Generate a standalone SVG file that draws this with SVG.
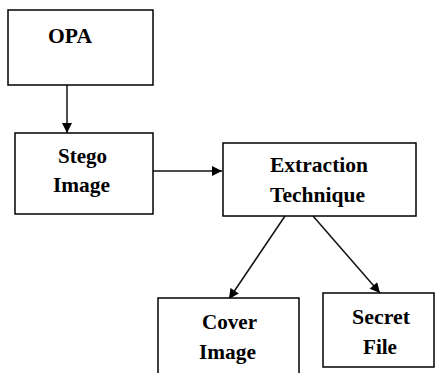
<svg xmlns="http://www.w3.org/2000/svg" width="435" height="373" viewBox="0 0 435 373">
<style>
.box{fill:#fff;stroke:#000;stroke-width:1.5}
.t{font-family:"Liberation Serif","Times New Roman",serif;font-weight:bold;font-size:21px;fill:#000}
.c{stroke:#111;stroke-width:1.5;fill:none;marker-end:url(#ah)}
</style>
<defs>
<marker id="ah" viewBox="0 0 10 10" refX="10" refY="5" markerWidth="11" markerHeight="10" markerUnits="userSpaceOnUse" orient="auto">
<path d="M0,0 L10,5 L0,10 z" fill="#000"/>
</marker>
</defs>
<rect width="435" height="373" fill="#fff"/>
<g id="connectors">
<line class="c" x1="67" y1="85" x2="67" y2="133"/>
<line class="c" x1="153" y1="171" x2="222" y2="171"/>
<line class="c" x1="285" y1="216" x2="229" y2="299"/>
<line class="c" x1="313" y1="216" x2="380" y2="293"/>
</g>
<g id="opa">
<rect class="box" x="8" y="10" width="145" height="75"/>
<text class="t" x="48" y="43" textLength="44" lengthAdjust="spacingAndGlyphs">OPA</text>
</g>
<g id="stego">
<rect class="box" x="15" y="133" width="138" height="81"/>
<text class="t" x="58" y="163" textLength="49" lengthAdjust="spacingAndGlyphs">Stego</text>
<text class="t" x="53" y="192" textLength="57" lengthAdjust="spacingAndGlyphs">Image</text>
</g>
<g id="extraction">
<rect class="box" x="223" y="143" width="193" height="73"/>
<text class="t" x="270" y="172" textLength="98" lengthAdjust="spacingAndGlyphs">Extraction</text>
<text class="t" x="270" y="202" textLength="95" lengthAdjust="spacingAndGlyphs">Technique</text>
</g>
<g id="cover">
<rect class="box" x="158" y="298" width="141" height="80"/>
<text class="t" x="202" y="329" textLength="55" lengthAdjust="spacingAndGlyphs">Cover</text>
<text class="t" x="199" y="359" textLength="57" lengthAdjust="spacingAndGlyphs">Image</text>
</g>
<g id="secret">
<rect class="box" x="323" y="293" width="111" height="74"/>
<text class="t" x="352" y="324" textLength="58" lengthAdjust="spacingAndGlyphs">Secret</text>
<text class="t" x="363" y="354" textLength="34" lengthAdjust="spacingAndGlyphs">File</text>
</g>
</svg>
